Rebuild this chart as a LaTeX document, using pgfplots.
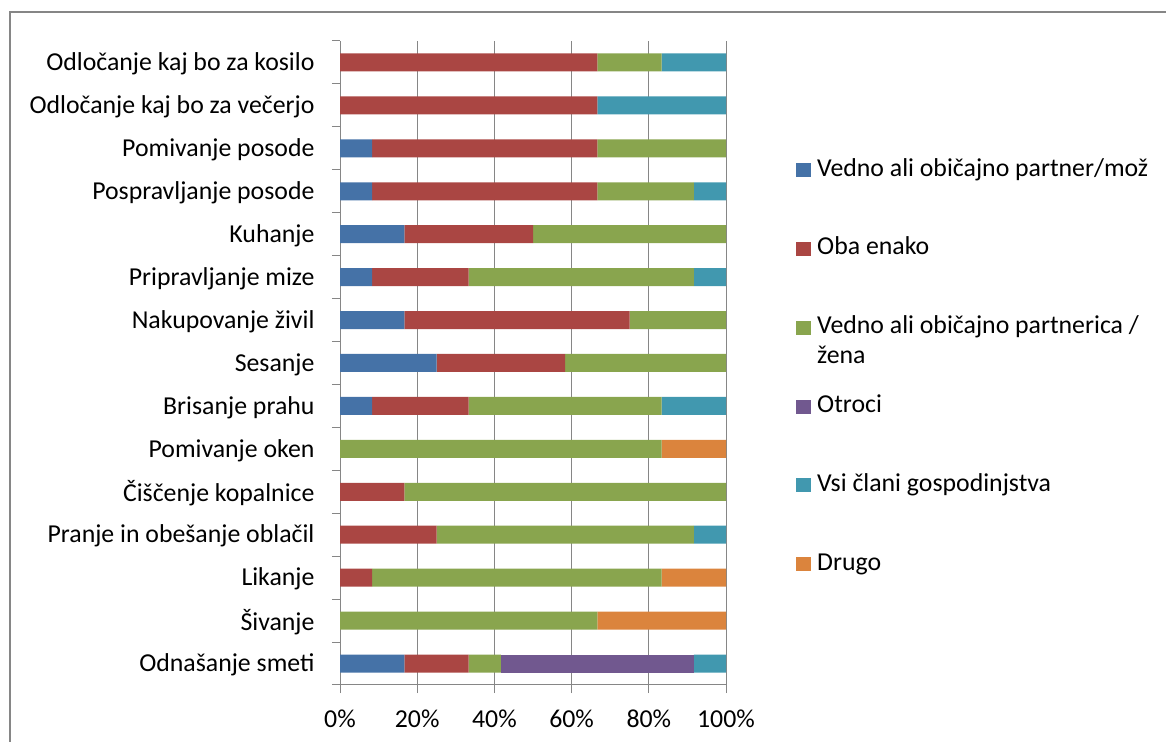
\documentclass[border=0pt]{standalone}
\usepackage{pgfplots}
\pgfplotsset{compat=1.18}
\usepackage{pgfplotstable}
\usepackage{fontspec}
\setmainfont{Carlito}
\definecolor{cB}{HTML}{4572A7}
\definecolor{cR}{HTML}{AA4643}
\definecolor{cG}{HTML}{89A54E}
\definecolor{cP}{HTML}{71588F}
\definecolor{cT}{HTML}{4198AF}
\definecolor{cO}{HTML}{DB843D}
\definecolor{axgray}{HTML}{868686}
\newcommand{\cf}{\fontsize{25.8bp}{30bp}\selectfont}
\pgfplotstableread{
y B R G P T O
0 2 2 1 6 1 0
1 0 0 8 0 0 4
2 0 1 9 0 0 2
3 0 3 8 0 1 0
4 0 2 10 0 0 0
5 0 0 10 0 0 2
6 1 3 6 0 2 0
7 3 4 5 0 0 0
8 2 7 3 0 0 0
9 1 3 7 0 1 0
10 2 4 6 0 0 0
11 1 7 3 0 1 0
12 1 7 4 0 0 0
13 0 8 0 0 4 0
14 0 8 2 0 2 0
}\data
\begin{document}
\begin{tikzpicture}
\useasboundingbox (0,0) rectangle (1166bp,742bp);
\clip (0,0) rectangle (1166bp,742bp);
\draw[axgray, line width=1.3bp] (10bp,-50bp) -- (10bp,730bp) -- (1250bp,730bp);
\begin{axis}[
  at={(340bp,57bp)}, anchor=south west,
  scale only axis, width=386bp, height=644bp,
  xbar stacked, bar width=18bp,
  xmin=0, xmax=12, ymin=-0.5, ymax=14.5,
  axis x line*=bottom, axis y line*=left,
  axis line style={draw=axgray, line width=1bp},
  tick align=outside, major tick length=8bp,
  tick style={draw=axgray, line width=1bp},
  xtick={0,2.4,4.8,7.2,9.6,12},
  xticklabels={0\%,20\%,40\%,60\%,80\%,100\%},
  xmajorgrids, grid style={draw=axgray, line width=1bp},
  ytick={-0.5,0.5,1.5,2.5,3.5,4.5,5.5,6.5,7.5,8.5,9.5,10.5,11.5,12.5,13.5,14.5},
  y tick label as interval,
  yticklabels={Odnašanje smeti,Šivanje,Likanje,Pranje in obešanje oblačil,Čiščenje kopalnice,Pomivanje oken,Brisanje prahu,Sesanje,Nakupovanje živil,Pripravljanje mize,Kuhanje,Pospravljanje posode,Pomivanje posode,Odločanje kaj bo za večerjo,Odločanje kaj bo za kosilo},
  tick label style={font=\cf},
  yticklabel style={xshift=-14bp, yshift=-1.5bp},
  xticklabel style={yshift=-13bp},
  legend cell align=left,
  legend image code/.code={\fill[#1] (0bp,-7bp) rectangle (15bp,7bp);},
  legend style={draw=none, fill=none, inner sep=0pt, font=\cf,
    at={(axis description cs:1.1813,0.8168)}, anchor=north west,
    row sep=56.8bp, column sep=6bp,
    nodes={inner sep=0pt, text height=17bp, text depth=5bp}},
]
\addplot[fill=cB, draw=none] table[x=B,y=y]{\data};
\addlegendentry{Vedno ali običajno partner/mož}
\addplot[fill=cR, draw=none] table[x=R,y=y]{\data};
\addlegendentry{Oba enako}
\addplot[fill=cG, draw=none] table[x=G,y=y]{\data};
\addlegendentry{\begin{tabular}[t]{@{}l@{}}Vedno ali običajno partnerica /\\žena\end{tabular}}
\addplot[fill=cP, draw=none] table[x=P,y=y]{\data};
\addlegendentry{Otroci}
\addplot[fill=cT, draw=none] table[x=T,y=y]{\data};
\addlegendentry{Vsi člani gospodinjstva}
\addplot[fill=cO, draw=none] table[x=O,y=y]{\data};
\addlegendentry{Drugo}
\end{axis}
\end{tikzpicture}
\end{document}
